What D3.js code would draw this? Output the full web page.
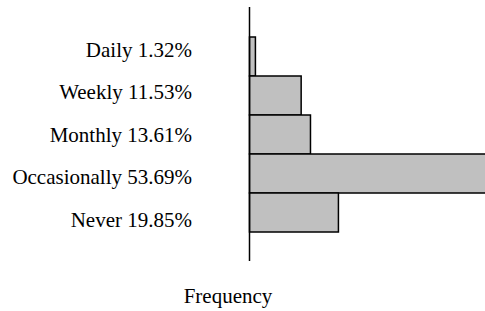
<!DOCTYPE html>
<html>
<head>
<meta charset="utf-8">
<script src="https://cdn.jsdelivr.net/npm/d3@7"></script>
<style>
  body { margin: 0; background: #fff; }
</style>
</head>
<body>
<div id="chart"></div>
<script>
// data
const categories = ["Daily", "Weekly", "Monthly", "Occasionally", "Never"];
const percents = [1.32, 11.53, 13.61, 53.69, 19.85];
const axisTitle = "Frequency";

const width = 485, height = 311;

const svg = d3.select("#chart")
    .append("svg")
    .attr("width", width)
    .attr("height", height);

const x = d3.scaleLinear().domain([0, 100]).range([249.5, 697.5]);
const y = d3.scaleBand().domain(categories).range([37, 232]).paddingInner(0);
// tick labels sit on their own spacing in the original
const yLabel = d3.scalePoint().domain(categories).range([56.5, 227]);

const rows = categories.map((c, i) => ({ cat: c, val: percents[i] }));

svg.selectAll("rect.bar")
    .data(rows)
    .enter()
    .append("rect")
    .attr("class", "bar")
    .attr("x", x(0))
    .attr("y", d => y(d.cat))
    .attr("width", d => x(d.val) - x(0))
    .attr("height", y.bandwidth())
    .attr("fill", "#c0c0c0")
    .attr("stroke", "#000")
    .attr("stroke-width", 1.5);

// vertical axis line
svg.append("line")
    .attr("x1", x(0)).attr("x2", x(0))
    .attr("y1", 7).attr("y2", 261)
    .attr("stroke", "#000")
    .attr("stroke-width", 1.5);

svg.selectAll("text.lab")
    .data(rows)
    .enter()
    .append("text")
    .attr("class", "lab")
    .attr("x", 192)
    .attr("y", d => yLabel(d.cat))
    .attr("text-anchor", "end")
    .attr("font-family", "Liberation Serif")
    .attr("font-size", 21)
    .attr("fill", "#000")
    .text(d => d.cat + " " + d.val.toFixed(2) + "%");

svg.append("text")
    .attr("x", 228)
    .attr("y", 303)
    .attr("text-anchor", "middle")
    .attr("font-family", "Liberation Serif")
    .attr("font-size", 21)
    .attr("fill", "#000")
    .text(axisTitle);
</script>
</body>
</html>
